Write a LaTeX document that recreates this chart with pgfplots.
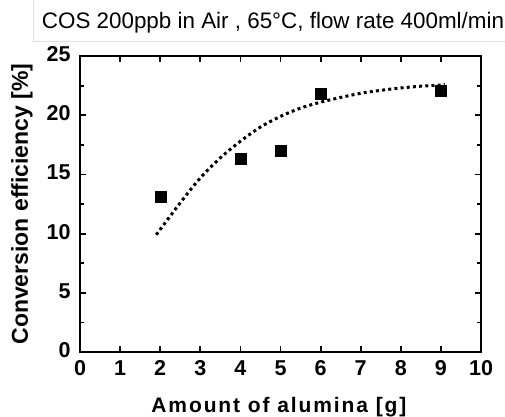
\documentclass[border=0pt]{standalone}
\usepackage{pgfplots}
\pgfplotsset{compat=1.18}
\usepackage{fontspec}
\setmainfont{Liberation Sans}
\newfontfamily\spacedbold{Liberation Sans}[LetterSpace=9]
\begin{document}
\begin{tikzpicture}[x=1bp,y=1bp]
\useasboundingbox (0,0) rectangle (505,416);
\draw[black!12, line width=1bp] (33,416) -- (33,375) -- (505,375);
\node[font=\fontsize{22.4bp}{24bp}\selectfont, anchor=center] at (273,393) {COS 200ppb in Air , 65°C, flow rate 400ml/min};
\begin{axis}[
  at={(80bp,64bp)}, anchor=south west,
  width=401bp, height=296bp, scale only axis,
  xmin=0, xmax=10, ymin=0, ymax=25,
  xtick={0,1,...,10}, ytick={0,5,...,25},
  minor ytick={2.5,7.5,12.5,17.5,22.5},
  tick align=inside,
  major tick length=6bp, minor tick length=4bp,
  axis line style={line width=2.2bp},
  every tick/.style={black, line width=1.8bp},
  tick label style={font=\fontsize{21.5bp}{22bp}\selectfont\bfseries},
  /pgf/number format/assume math mode=true,
  xticklabel style={yshift=-5bp},
  yticklabel style={xshift=-6bp, yshift=2bp},
  xlabel={\spacedbold\bfseries Amount of alumina [g]},
  ylabel={Conversion efficiency [\%]},
  xlabel style={font=\fontsize{21bp}{22bp}\selectfont\bfseries, at={(axis description cs:0.496,-0.186)}, anchor=center},
  ylabel style={font=\fontsize{23bp}{24bp}\selectfont\bfseries, at={(axis description cs:-0.1446,0.5)}, anchor=center},
  clip=false,
]
\addplot[black, line width=3bp, dash pattern=on 3bp off 3.2bp, smooth] coordinates {
(1.9,9.9) (2.5,12.6) (3,14.7) (3.5,16.4) (4,17.8) (4.5,19.0) (5,19.9)
(5.5,20.6) (6,21.1) (6.5,21.5) (7,21.85) (7.5,22.1) (8,22.3) (8.5,22.45) (9,22.55) (9.1,22.6)
};
\addplot[only marks, mark=square*, mark size=5.5bp, black] coordinates {
(2,13.1) (4,16.3) (5,17.0) (6,21.8) (9,22.1)
};
\end{axis}
\end{tikzpicture}
\end{document}
